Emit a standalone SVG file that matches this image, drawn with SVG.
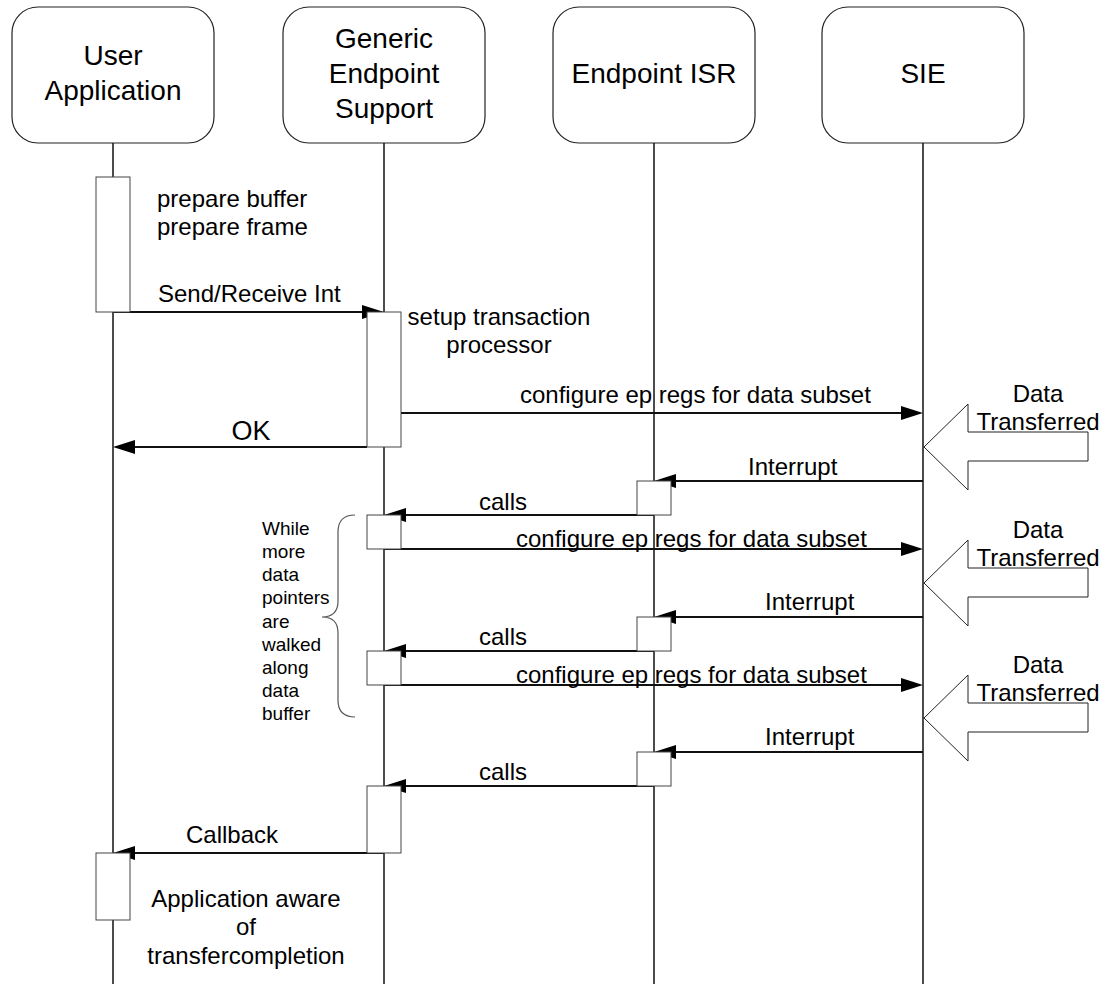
<svg xmlns="http://www.w3.org/2000/svg" width="1108" height="984" viewBox="0 0 1108 984">
  <style>
    .head { fill: #fff; stroke: #222; stroke-width: 1.2; }
    .life { stroke: #111; stroke-width: 1.5; fill: none; }
    .act { fill: #fff; stroke: #444; stroke-width: 1; }
    .msg { stroke: #111; stroke-width: 1.8; fill: none; }
    .tip { fill: #000; }
    .big { fill: #fff; stroke: #222; stroke-width: 1; }
    .brace { fill: none; stroke: #555; stroke-width: 1.2; }
    text { font-family: "Liberation Sans", Arial, sans-serif; fill: #000; }
    .t28 { font-size: 28px; text-anchor: middle; }
    .t24 { font-size: 24px; }
    .c { text-anchor: middle; }
    .t19 { font-size: 19px; }
  </style>

  <!-- lifeline heads -->
  <g id="user-app">
    <rect class="head" x="12" y="7" width="202" height="136" rx="26"/>
    <text class="t28" x="113" y="65">User</text>
    <text class="t28" x="113" y="100">Application</text>
    <line class="life" x1="113" y1="143" x2="113" y2="984"/>
  </g>
  <g id="generic-endpoint">
    <rect class="head" x="283" y="7" width="202" height="136" rx="26"/>
    <text class="t28" x="384" y="48">Generic</text>
    <text class="t28" x="384" y="83">Endpoint</text>
    <text class="t28" x="384" y="118">Support</text>
    <line class="life" x1="384" y1="143" x2="384" y2="984"/>
  </g>
  <g id="endpoint-isr">
    <rect class="head" x="553" y="7" width="202" height="136" rx="26"/>
    <text class="t28" x="654" y="83">Endpoint ISR</text>
    <line class="life" x1="654" y1="143" x2="654" y2="984"/>
  </g>
  <g id="sie">
    <rect class="head" x="822" y="7" width="202" height="136" rx="26"/>
    <text class="t28" x="923" y="83">SIE</text>
    <line class="life" x1="923" y1="143" x2="923" y2="984"/>
  </g>

  <!-- messages -->
  <g id="connectors">
    <!-- Send/Receive Int -->
    <line class="msg" x1="113" y1="312" x2="370" y2="312"/>
    <polygon class="tip" points="384,312 362,305 362,319"/>
    <!-- configure ep regs (1..3) -->
    <line class="msg" x1="401" y1="413" x2="905" y2="413"/>
    <polygon class="tip" points="923,413 901,406 901,420"/>
    <line class="msg" x1="384" y1="549" x2="905" y2="549"/>
    <polygon class="tip" points="923,549 901,542 901,556"/>
    <line class="msg" x1="384" y1="685" x2="905" y2="685"/>
    <polygon class="tip" points="923,685 901,678 901,692"/>
    <!-- OK -->
    <line class="msg" x1="367" y1="447" x2="128" y2="447"/>
    <polygon class="tip" points="113,447 135,440 135,454"/>
    <!-- Interrupt (1..3) -->
    <line class="msg" x1="923" y1="481" x2="670" y2="481"/>
    <polygon class="tip" points="654,481 676,474 676,488"/>
    <line class="msg" x1="923" y1="617" x2="670" y2="617"/>
    <polygon class="tip" points="654,617 676,610 676,624"/>
    <line class="msg" x1="923" y1="752" x2="670" y2="752"/>
    <polygon class="tip" points="654,752 676,745 676,759"/>
    <!-- calls (1..3) -->
    <line class="msg" x1="654" y1="515" x2="400" y2="515"/>
    <polygon class="tip" points="384,515 406,508 406,522"/>
    <line class="msg" x1="654" y1="651" x2="400" y2="651"/>
    <polygon class="tip" points="384,651 406,644 406,658"/>
    <line class="msg" x1="654" y1="786" x2="400" y2="786"/>
    <polygon class="tip" points="384,786 406,779 406,793"/>
    <!-- Callback -->
    <line class="msg" x1="384" y1="853" x2="128" y2="853"/>
    <polygon class="tip" points="113,853 135,846 135,860"/>
  </g>

  <!-- activation bars -->
  <g id="activations">
    <rect class="act" x="96" y="177" width="34" height="135"/>
    <rect class="act" x="367" y="312" width="34" height="135"/>
    <rect class="act" x="637" y="481" width="34" height="34"/>
    <rect class="act" x="367" y="515" width="34" height="34"/>
    <rect class="act" x="637" y="617" width="34" height="34"/>
    <rect class="act" x="367" y="651" width="34" height="34"/>
    <rect class="act" x="637" y="752" width="34" height="34"/>
    <rect class="act" x="367" y="786" width="34" height="67"/>
    <rect class="act" x="96" y="853" width="34" height="67"/>
  </g>

  <!-- incoming data block arrows -->
  <g id="data-transferred">
    <polygon class="big" points="924,447 968,404 968,432 1088,432 1088,461 968,461 968,490"/>
    <text class="t24 c" x="1038" y="402">Data</text>
    <text class="t24 c" x="1038" y="430">Transferred</text>
    <polygon class="big" points="924,583 968,540 968,568 1088,568 1088,597 968,597 968,626"/>
    <text class="t24 c" x="1038" y="538">Data</text>
    <text class="t24 c" x="1038" y="566">Transferred</text>
    <polygon class="big" points="924,718 968,675 968,703 1088,703 1088,732 968,732 968,761"/>
    <text class="t24 c" x="1038" y="673">Data</text>
    <text class="t24 c" x="1038" y="701">Transferred</text>
  </g>

  <!-- loop brace -->
  <g id="loop-note">
    <path class="brace" d="M355,515 Q338,515 338,532 L338,601 Q338,617 322,617 Q338,617 338,633 L338,700 Q338,717 355,717"/>
    <text class="t19" x="262" y="535">While</text>
    <text class="t19" x="262" y="558">more</text>
    <text class="t19" x="262" y="581">data</text>
    <text class="t19" x="262" y="604">pointers</text>
    <text class="t19" x="262" y="628">are</text>
    <text class="t19" x="262" y="651">walked</text>
    <text class="t19" x="262" y="674">along</text>
    <text class="t19" x="262" y="697">data</text>
    <text class="t19" x="262" y="720">buffer</text>
  </g>

  <!-- labels -->
  <g id="labels">
    <text class="t24" x="157" y="207">prepare buffer</text>
    <text class="t24" x="157" y="235">prepare frame</text>
    <text class="t24" x="158" y="302">Send/Receive Int</text>
    <text class="t24 c" x="499" y="325">setup transaction</text>
    <text class="t24 c" x="499" y="353">processor</text>
    <text class="t24" x="520" y="403">configure ep regs for data subset</text>
    <text x="251" y="440" style="font-size:27px" class="c">OK</text>
    <text class="t24" x="748" y="475">Interrupt</text>
    <text class="t24" x="479" y="510">calls</text>
    <text class="t24" x="516" y="547">configure ep regs for data subset</text>
    <text class="t24" x="765" y="610">Interrupt</text>
    <text class="t24" x="479" y="645">calls</text>
    <text class="t24" x="516" y="683">configure ep regs for data subset</text>
    <text class="t24" x="765" y="745">Interrupt</text>
    <text class="t24" x="479" y="780">calls</text>
    <text class="t24" x="186" y="843">Callback</text>
    <text class="t24 c" x="246" y="907">Application aware</text>
    <text class="t24 c" x="246" y="935">of</text>
    <text class="t24 c" x="246" y="964">transfercompletion</text>
  </g>
</svg>
